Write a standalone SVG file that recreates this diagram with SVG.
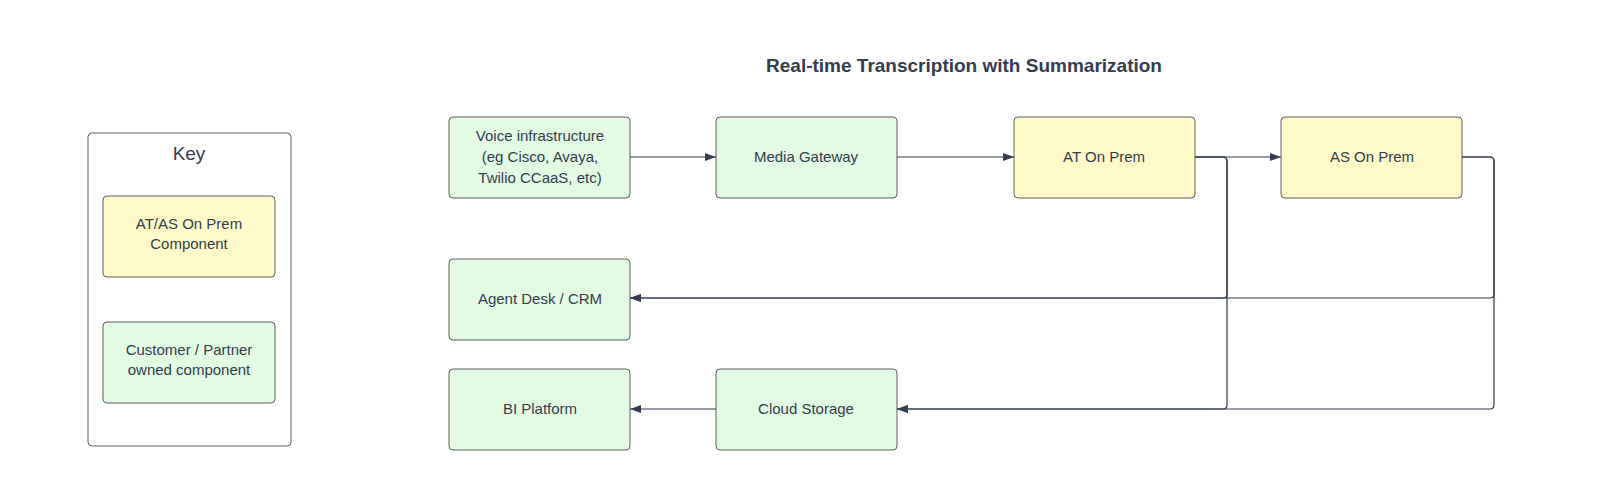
<svg xmlns="http://www.w3.org/2000/svg" width="1600" height="499" viewBox="0 0 1600 499">
<style>
.y{fill:#fffbc9;stroke:#5e5e5e;stroke-width:1}
.g{fill:#e3fae3;stroke:#5e5e5e;stroke-width:1}
text{font-family:"Liberation Sans",Arial,sans-serif;font-size:15px;fill:#333d4e;text-anchor:middle}
.c{fill:none;stroke:#333d4e;stroke-width:1.2}
</style>
<defs><marker id="a" markerWidth="12" markerHeight="10" refX="11" refY="5" orient="auto" markerUnits="userSpaceOnUse"><path d="M0,1 L11,5 L0,9 Z" fill="#333d4e"/></marker></defs>
<rect width="1600" height="499" fill="#fff"/>
<text x="964" y="72" style="font-size:19px;font-weight:bold">Real-time Transcription with Summarization</text>
<g id="key"><rect x="88" y="133" width="203" height="313" rx="4" fill="#fff" stroke="#5e5e5e"/><text x="189" y="160" style="font-size:19px">Key</text></g>
<g id="key-yellow"><rect class="y" x="103" y="196" width="172" height="81" rx="4"/><text x="189" y="229">AT/AS On Prem</text><text x="189" y="249">Component</text></g>
<g id="key-green"><rect class="g" x="103" y="322" width="172" height="81" rx="4"/><text x="189" y="355">Customer / Partner</text><text x="189" y="375">owned component</text></g>
<g id="voice"><rect class="g" x="449" y="117" width="181" height="81" rx="4"/><text x="540" y="141">Voice infrastructure</text><text x="540" y="162">(eg Cisco, Avaya,</text><text x="540" y="183">Twilio CCaaS, etc)</text></g>
<g id="media"><rect class="g" x="716" y="117" width="181" height="81" rx="4"/><text x="806" y="162">Media Gateway</text></g>
<g id="at"><rect class="y" x="1014" y="117" width="181" height="81" rx="4"/><text x="1104" y="162">AT On Prem</text></g>
<g id="as"><rect class="y" x="1281" y="117" width="181" height="81" rx="4"/><text x="1372" y="162">AS On Prem</text></g>
<g id="agent"><rect class="g" x="449" y="259" width="181" height="81" rx="4"/><text x="540" y="304">Agent Desk / CRM</text></g>
<g id="bi"><rect class="g" x="449" y="369" width="181" height="81" rx="4"/><text x="540" y="414">BI Platform</text></g>
<g id="cloud"><rect class="g" x="716" y="369" width="181" height="81" rx="4"/><text x="806" y="414">Cloud Storage</text></g>
<g id="connectors">
<path class="c" d="M630,157 H716" marker-end="url(#a)"/>
<path class="c" d="M897,157 H1014" marker-end="url(#a)"/>
<path class="c" d="M1195,157 H1281" marker-end="url(#a)"/>
<path class="c" d="M1195,157 H1223 Q1227,157 1227,161 V294 Q1227,298 1223,298 H630" marker-end="url(#a)"/>
<path class="c" d="M1195,157 H1223 Q1227,157 1227,161 V405 Q1227,409 1223,409 H897" marker-end="url(#a)"/>
<path class="c" d="M1462,157 H1490 Q1494,157 1494,161 V294 Q1494,298 1490,298 H630" marker-end="url(#a)"/>
<path class="c" d="M1462,157 H1490 Q1494,157 1494,161 V405 Q1494,409 1490,409 H897" marker-end="url(#a)"/>
<path class="c" d="M716,409 H630" marker-end="url(#a)"/>
</g>
</svg>
